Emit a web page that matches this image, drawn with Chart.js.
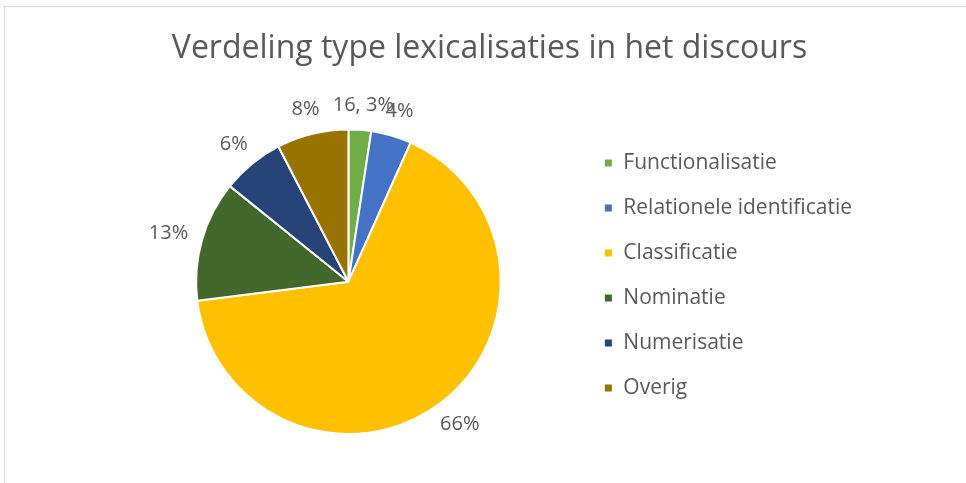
<!DOCTYPE html>
<html>
<head>
<meta charset="utf-8">
<script src="https://cdn.jsdelivr.net/npm/chart.js@4"></script>
<style>
  body { margin: 0; background: #fff; }
  #wrap {
    position: absolute; left: 4px; top: 6px;
    width: 962px; height: 477px;
    border-top: 1px solid #d9d9d9; border-left: 1px solid #d9d9d9;
  }
</style>
</head>
<body>
<div id="wrap"><canvas id="pieChart" width="961" height="476"></canvas></div>
<script>
// Data
const categories = ['Functionalisatie', 'Relationele identificatie', 'Classificatie', 'Nominatie', 'Numerisatie', 'Overig'];
const shares = [2.4, 4.3, 66.3, 12.8, 6.6, 7.6];
const sliceLabels = ['16, 3%', '4%', '66%', '13%', '6%', '8%'];
const colours = ['#70AD47', '#4472C4', '#FFC000', '#43682B', '#264478', '#997300'];

const FONT = '"Open Sans", Lato, sans-serif';
const GREY = '#595959';

// labels just outside each slice, like Excel's outside-end labels
const outsideLabels = {
  id: 'outsideLabels',
  afterDatasetsDraw(chart) {
    const ctx = chart.ctx;
    const meta = chart.getDatasetMeta(0);
    ctx.save();
    ctx.font = '20px ' + FONT;
    ctx.fillStyle = GREY;
    ctx.textAlign = 'center';
    ctx.textBaseline = 'middle';
    meta.data.forEach((arc, i) => {
      const p = arc.getProps(['x', 'y', 'startAngle', 'endAngle', 'outerRadius'], true);
      const mid = (p.startAngle + p.endAngle) / 2;
      const c = Math.cos(mid), s = Math.sin(mid);
      const w = ctx.measureText(sliceLabels[i]).width;
      const h = 20;
      const r = p.outerRadius + 15;
      const x = p.x + r * c + (w / 2) * c;
      const y = p.y + r * s + (h / 2) * s;
      ctx.fillText(sliceLabels[i], x, y);
    });
    ctx.restore();
  }
};

new Chart(document.getElementById('pieChart').getContext('2d'), {
  type: 'pie',
  data: {
    labels: categories,
    datasets: [{
      data: shares,
      backgroundColor: colours,
      borderColor: '#ffffff',
      borderWidth: 2
    }]
  },
  options: {
    responsive: false,
    animation: false,
    layout: { padding: { left: 112, right: 104, top: 0, bottom: 48 } },
    plugins: {
      title: {
        display: true,
        text: 'Verdeling type lexicalisaties in het discours',
        color: GREY,
        font: { family: FONT, size: 32, weight: 'normal' },
        padding: { top: 23, bottom: 60 }
      },
      legend: {
        position: 'right',
        align: 'start',
        fullSize: false,
        labels: {
          color: GREY,
          font: { family: FONT, size: 21 },
          boxWidth: 9,
          boxHeight: 9,
          padding: 24
        }
      },
      tooltip: { enabled: false }
    }
  },
  plugins: [outsideLabels]
});
</script>
</body>
</html>
